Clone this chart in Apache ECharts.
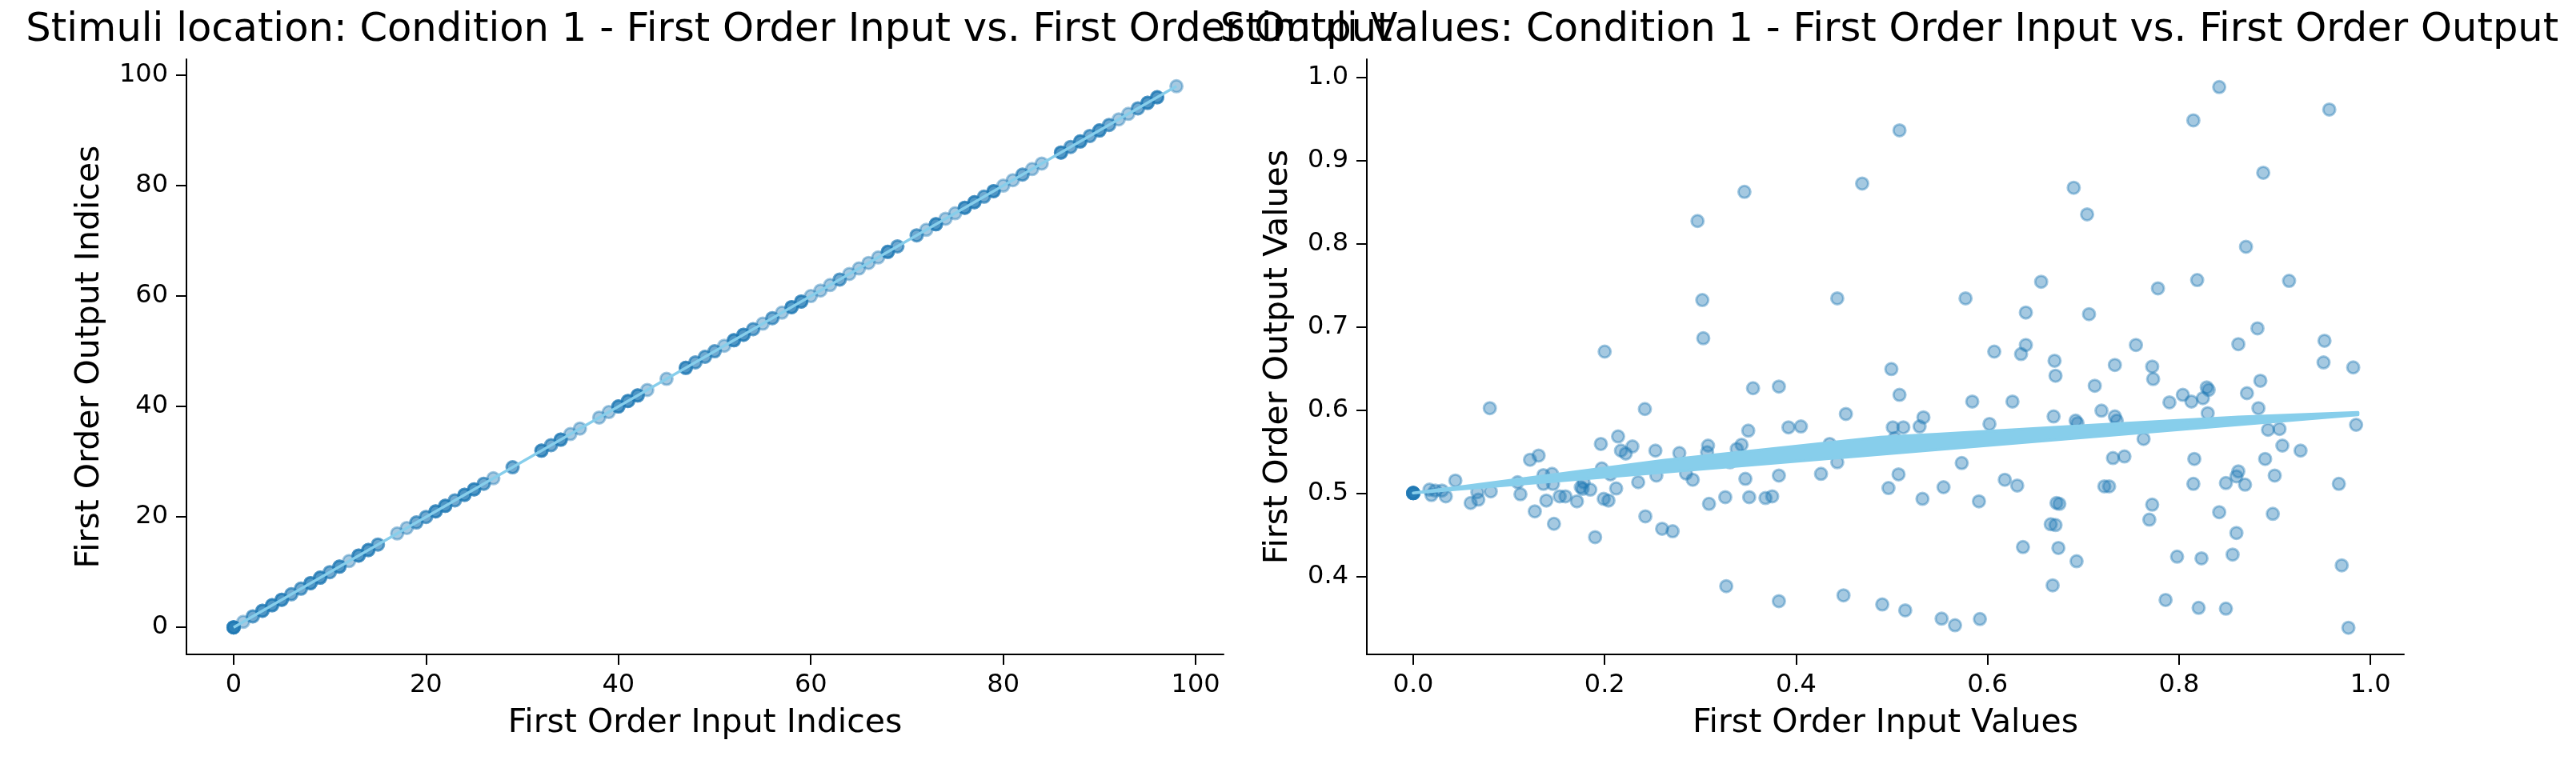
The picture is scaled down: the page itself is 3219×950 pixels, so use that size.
<!DOCTYPE html>
<html><head><meta charset="utf-8">
<script src="https://cdn.jsdelivr.net/npm/echarts@6/dist/echarts.min.js"></script>
<style>html,body{margin:0;padding:0;background:#fff}#c{width:3219px;height:950px}</style>
</head><body><div id="c"></div>
<script>
// ---------- texts ----------
const leftTitle = 'Stimuli location: Condition 1 - First Order Input vs. First Order Output';
const rightTitle = 'Stimuli Values: Condition 1 - First Order Input vs. First Order Output';
const leftXName = 'First Order Input Indices';
const leftYName = 'First Order Output Indices';
const rightXName = 'First Order Input Values';
const rightYName = 'First Order Output Values';

// ---------- tick labels ----------
const leftTicks = [0, 20, 40, 60, 80, 100];
const rightXTicks = [0.0, 0.2, 0.4, 0.6, 0.8, 1.0];
const rightYTicks = [0.4, 0.5, 0.6, 0.7, 0.8, 0.9, 1.0];

// ---------- left panel: index pairs (input index == output index) and multiplicity ----------
const leftIndices = [0,1,2,3,4,5,6,7,8,9,10,11,12,13,14,15,17,18,19,20,21,22,23,24,25,26,27,29,32,33,34,35,36,38,39,40,41,42,43,45,47,48,49,50,51,52,53,54,55,56,57,58,59,60,61,62,63,64,65,66,67,68,69,71,72,73,74,75,76,77,78,79,80,81,82,83,84,86,87,88,89,90,91,92,93,94,95,96,98];
const leftCounts  = [5,1,2,3,3,3,2,2,3,3,2,3,1,3,3,2,1,1,2,2,3,3,2,3,3,2,1,2,3,2,3,1,1,1,1,3,3,3,1,1,3,2,2,2,1,3,3,2,1,2,1,3,3,1,1,1,2,1,1,1,1,3,2,2,1,3,1,1,3,3,2,3,1,1,2,1,1,3,2,3,2,3,2,1,1,2,3,3,1];
const leftFitX = [0, 98];
const leftFitY = [0, 98];

// ---------- right panel: values ----------
const inputValues = [
  0,0,0,0,0,0,0.017,0.023,0.030,0.019,0.034,0.044,0.060,0.067,0.068,0.081,
  0.109,0.112,0.122,0.131,0.127,0.136,0.145,0.136,0.146,0.139,
  0.147,0.153,0.159,0.171,0.175,0.177,0.178,0.185,0.190,0.196,
  0.197,0.199,0.204,0.206,0.212,0.214,0.217,0.222,0.229,0.235,
  0.2425,0.253,0.254,0.260,
  0.271,0.278,0.285,0.292,0.308,0.307,0.331,0.338,0.343,0.350,0.309,0.326,0.347,0.351,0.368,0.375,0.382,0.392,0.405,0.426,0.435,0.443,
  0.327,0.382,0.4495,
  0.508,0.469,0.346,0.297,0.302,0.443,0.303,0.200,0.4995,0.355,0.382,0.508,0.080,0.242,0.452,
  0.842,0.957,0.815,0.888,0.690,0.704,0.870,0.656,0.577,0.778,
  0.819,0.915,0.640,0.706,0.882,0.862,0.607,0.640,0.635,0.755,
  0.952,0.670,0.671,0.733,0.772,0.773,0.712,0.951,0.982,0.885,
  0.871,0.584,0.626,0.804,0.813,0.825,0.829,0.831,0.790,
  0.719,0.669,0.692,0.694,0.733,0.735,0.602,0.533,0.529,0.501,
  0.512,0.503,0.763,0.830,0.883,0.985,0.893,0.905,0.908,0.927,
  0.890,0.816,0.731,0.743,0.573,0.507,0.4965,0.532,0.554,0.591,
  0.618,0.631,0.672,0.675,0.722,0.727,0.772,0.769,0.666,0.671,
  0.637,0.674,0.693,0.668,0.815,0.849,0.862,0.860,0.869,0.900,
  0.967,0.842,0.898,0.860,0.798,0.8235,0.856,0.970,0.786,0.8205,
  0.849,0.977,0.490,0.514,0.552,0.566,0.592
];
const outputValues = [
  0.5,0.5,0.5,0.5,0.5,0.5,0.504,0.503,0.503,0.4975,0.496,0.515,0.488,0.501,0.492,0.502,
  0.513,0.4985,0.540,0.545,0.478,0.5215,0.523,0.511,0.511,0.491,
  0.463,0.496,0.496,0.490,0.507,0.505,0.513,0.504,0.447,0.559,
  0.5295,0.493,0.491,0.5225,0.5055,0.568,0.551,0.5475,0.556,0.513,
  0.472,0.551,0.521,0.457,
  0.454,0.548,0.5235,0.516,0.557,0.549,0.537,0.553,0.558,0.575,0.487,0.495,0.517,0.495,0.494,0.496,0.521,0.579,0.580,0.523,0.559,0.537,
  0.388,0.370,0.377,
  0.936,0.872,0.862,0.827,0.732,0.734,0.686,0.670,0.649,0.626,0.628,0.618,0.602,0.601,0.595,
  0.988,0.961,0.948,0.885,0.867,0.835,0.796,0.754,0.734,0.746,
  0.756,0.755,0.717,0.715,0.698,0.679,0.670,0.678,0.667,0.678,
  0.683,0.659,0.641,0.654,0.652,0.637,0.629,0.657,0.651,0.635,
  0.620,0.610,0.610,0.618,0.610,0.614,0.627,0.624,0.609,
  0.599,0.592,0.587,0.584,0.592,0.587,0.583,0.591,0.580,0.579,
  0.579,0.566,0.565,0.596,0.602,0.582,0.576,0.577,0.557,0.551,
  0.541,0.541,0.542,0.544,0.536,0.5225,0.506,0.493,0.507,0.490,
  0.516,0.509,0.488,0.487,0.508,0.508,0.486,0.468,0.4625,0.4615,
  0.435,0.434,0.418,0.389,0.511,0.512,0.526,0.520,0.510,0.521,
  0.511,0.477,0.475,0.452,0.4235,0.4215,0.426,0.413,0.3715,0.362,
  0.361,0.338,0.366,0.359,0.349,0.341,0.3485
];
// outline of the fitted-line band (upper edge then lower edge)
const bandX = [0, 0.1455, 0.2625, 0.488, 0.547, 0.712, 0.862, 0.987, 0.987, 0];
const bandY = [0.5, 0.5218, 0.5394, 0.567, 0.5706, 0.5817, 0.5913, 0.597, 0.594, 0.5];

// ---------- build ----------
const FONT = 'DejaVu Sans';
const DOT = 'rgba(31,119,180,0.5)';
const FIT = '#87ceeb';

const leftData = [];
leftIndices.forEach((v, i) => { for (let k = 0; k < leftCounts[i]; k++) leftData.push([v, v]); });
const rightData = inputValues.map((v, i) => [v, outputValues[i]]);
const bandData = bandX.map((v, i) => [v, bandY[i]]);

function axis(extra) {
  return Object.assign({
    type: 'value',
    nameLocation: 'middle',
    axisLine: { show: true, onZero: false, lineStyle: { color: '#000', width: 2 } },
    splitLine: { show: false },
    nameTextStyle: { color: '#000', fontFamily: FONT, fontSize: 41 }
  }, extra);
}
function lab(ticks, fmt) {
  return { color: '#000', fontFamily: FONT, fontSize: 32, margin: 23, customValues: ticks, formatter: fmt };
}
function tick(ticks) {
  return { show: true, length: 13, customValues: ticks, lineStyle: { color: '#000', width: 2 } };
}
const fmt0 = v => String(Math.round(v));
const fmt1 = v => Number(v).toFixed(1);
const titleStyle = { fontFamily: FONT, fontSize: 49.6, fontWeight: 'normal', color: '#000' };

const chart = echarts.init(document.getElementById('c'), null, { renderer: 'canvas' });
chart.setOption({
  animation: false,
  backgroundColor: '#fff',
  title: [
    { text: leftTitle, left: 881, top: 8, textAlign: 'center', textStyle: titleStyle },
    { text: rightTitle, left: 2356, top: 8, textAlign: 'center', textStyle: titleStyle }
  ],
  grid: [
    { left: 233, top: 74, width: 1296, height: 744 },
    { left: 1708, top: 74, width: 1296, height: 744 }
  ],
  xAxis: [
    axis({ gridIndex: 0, min: -4.9, max: 102.9, name: leftXName, nameGap: 66,
      axisLabel: lab(leftTicks, fmt0), axisTick: tick(leftTicks) }),
    axis({ gridIndex: 1, min: -0.0485, max: 1.035, name: rightXName, nameGap: 66,
      axisLabel: lab(rightXTicks, fmt1), axisTick: tick(rightXTicks) })
  ],
  yAxis: [
    axis({ gridIndex: 0, min: -4.9, max: 102.9, name: leftYName, nameGap: 100,
      axisLabel: lab(leftTicks, fmt0), axisTick: tick(leftTicks) }),
    axis({ gridIndex: 1, min: 0.306, max: 1.0215, name: rightYName, nameGap: 90,
      axisLabel: lab(rightYTicks, fmt1), axisTick: tick(rightYTicks) })
  ],
  series: [
    { type: 'scatter', xAxisIndex: 0, yAxisIndex: 0, data: leftData, symbolSize: 15, z: 2,
      itemStyle: { color: DOT, borderColor: DOT, borderWidth: 3 } },
    { type: 'line', xAxisIndex: 0, yAxisIndex: 0, data: leftFitX.map((v, i) => [v, leftFitY[i]]), showSymbol: false, z: 3,
      lineStyle: { color: FIT, width: 3.5 } },
    { type: 'scatter', xAxisIndex: 1, yAxisIndex: 1, data: rightData, symbolSize: 15, z: 2,
      itemStyle: { color: DOT, borderColor: DOT, borderWidth: 3 } },
    { type: 'custom', xAxisIndex: 1, yAxisIndex: 1, data: bandData, z: 3,
      renderItem: function (params, api) {
        if (params.dataIndex !== 0) return null;
        const pts = bandData.map(p => api.coord(p));
        return { type: 'polygon', shape: { points: pts },
          style: { fill: FIT, stroke: FIT, lineWidth: 3.5, lineJoin: 'round' } };
      } }
  ]
});
</script></body></html>
